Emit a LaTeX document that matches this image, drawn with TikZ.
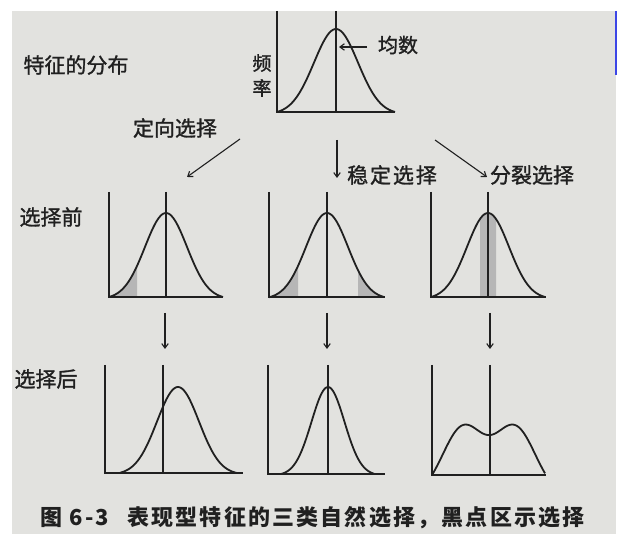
\documentclass[tikz,border=0pt]{standalone}
\usepackage{fontspec}
\setmainfont{Noto Sans CJK SC}
\usetikzlibrary{arrows.meta}
\definecolor{paper}{RGB}{226,226,223}
\definecolor{ink}{RGB}{32,32,32}
\definecolor{dotgray}{RGB}{182,182,182}
\definecolor{scanblue}{RGB}{60,70,230}
\begin{document}
\begin{tikzpicture}[x=1pt,y=-1pt,
  declare function={gn(\x,\s,\w)=(exp(-(\x*\x)/(2*\s*\s))-exp(-(\w*\w)/(2*\s*\s)))/(1-exp(-(\w*\w)/(2*\s*\s)));},
  axisline/.style={draw=ink,line width=1.2pt},
  curveline/.style={draw=ink,line width=1.8pt,line join=round},
  selfill/.style={fill=dotgray},
  arr/.style={draw=ink,line width=1.1pt,-{Straight Barb[length=4.5pt,width=6.5pt]}},
  lbl/.style={inner sep=0pt,text=ink,font=\fontsize{21}{21}\selectfont\addfontfeatures{FakeBold=1.3}},
  small/.style={inner sep=0pt,text=ink,font=\fontsize{19}{19}\selectfont\addfontfeatures{FakeBold=1.3}},
  captext/.style={inner sep=0pt,text=ink,font=\fontsize{22}{22}\selectfont\bfseries\addfontfeatures{LetterSpace=10}}
]
\useasboundingbox (0,0) rectangle (619,534);
\fill[white] (0,0) rectangle (619,534);
\fill[paper] (12,11) rectangle (616,534);
\draw[scanblue,line width=1.2pt] (616,11) -- (616,75);

% ---------- top distribution ----------
\draw[axisline] (277,11) -- (277,112) -- (395,112);
\draw[axisline] (336,11) -- (336,112);
\draw[curveline] plot[domain=-59:59,samples=81,smooth] ({336+\x},{112-83*gn(\x,22,59)});
\node[small] (freq1) at (262,63) {频};
\node[small] (freq2) at (262,88) {率};
\node[inner sep=0pt,text=ink,font=\fontsize{20}{20}\selectfont\addfontfeatures{FakeBold=1.3}] (mean) at (398,45) {均数};
\coordinate (meanA) at (367,47);
\coordinate (meanB) at (339,47);
\draw[arr] (meanA) -- (meanB);
\node[lbl] (feat) at (76,65) {特征的分布};

% ---------- selection labels ----------
\node[lbl] (dir) at (175,128) {定向选择};
\node[lbl,font=\fontsize{21}{21}\selectfont\addfontfeatures{LetterSpace=9,FakeBold=1.3}] (stab) at (392,175) {稳定选择};
\node[lbl] (split) at (532,175) {分裂选择};
\coordinate (dirA) at (240,139);
\coordinate (dirB) at (187,177);
\draw[arr] (dirA) -- (dirB);
\coordinate (stabA) at (337,140);
\coordinate (stabB) at (337,178);
\draw[arr] (stabA) -- (stabB);
\coordinate (splitA) at (435,140);
\coordinate (splitB) at (487,177);
\draw[arr] (splitA) -- (splitB);

\node[lbl] (before) at (51,217) {选择前};
\node[lbl] (after) at (46,379) {选择后};

% ---------- before selection ----------
% chart 1 (directional)
\fill[selfill] plot[domain=-57:-29,samples=30,smooth] ({166+\x},{297-84*gn(\x,21,57)}) -- (137,297) -- cycle;
\draw[axisline] (109,192) -- (109,297) -- (223,297);
\draw[axisline] (166,192) -- (166,297);
\draw[curveline] plot[domain=-57:57,samples=81,smooth] ({166+\x},{297-84*gn(\x,21,57)});
% chart 2 (stabilizing)
\fill[selfill] plot[domain=-57:-29,samples=30,smooth] ({327+\x},{297-84*gn(\x,21,57)}) -- (298,297) -- cycle;
\fill[selfill] (358,297) -- plot[domain=31:57,samples=30,smooth] ({327+\x},{297-84*gn(\x,21,57)}) -- cycle;
\draw[axisline] (269,192) -- (269,297) -- (385,297);
\draw[axisline] (327,192) -- (327,297);
\draw[curveline] plot[domain=-58:57,samples=81,smooth] ({327+\x},{297-84*gn(\x,21,57)});
% chart 3 (disruptive)
\fill[selfill] (480,297) -- plot[domain=-8:8,samples=17,smooth] ({488+\x},{297-84*gn(\x,21,57)}) -- (496,297) -- cycle;
\draw[axisline] (431,192) -- (431,297) -- (546,297);
\draw[axisline] (488,192) -- (488,297);
\draw[curveline] plot[domain=-57:57,samples=81,smooth] ({488+\x},{297-84*gn(\x,21,57)});

% ---------- arrows between rows ----------
\coordinate (r1a) at (165,313); \coordinate (r1b) at (165,349);
\coordinate (r2a) at (327,313); \coordinate (r2b) at (327,349);
\coordinate (r3a) at (490,313); \coordinate (r3b) at (490,349);
\draw[arr] (r1a) -- (r1b);
\draw[arr] (r2a) -- (r2b);
\draw[arr] (r3a) -- (r3b);

% ---------- after selection ----------
% chart 1
\draw[axisline] (105,365) -- (105,473) -- (243,473);
\draw[axisline] (163,365) -- (163,473);
\draw[curveline] plot[domain=-58:59,samples=81,smooth] ({178+\x},{473-86*gn(\x,21,59)});
% chart 2
\draw[axisline] (268,365) -- (268,474) -- (385,474);
\draw[axisline] (328,365) -- (328,474);
\draw[curveline] plot[domain=-47:46,samples=81,smooth] ({328+\x},{474-87*gn(\x,16.5,47)});
% chart 3
\draw[axisline] (432,365) -- (432,475) -- (546,475);
\draw[axisline] (490,365) -- (490,475);
\draw[curveline] plot[domain=-57:56,samples=91,smooth] ({489+\x},{475-69.3*(exp(-((\x-26)*(\x-26))/840.5)+exp(-((\x+26)*(\x+26))/840.5)-0.319)});

% ---------- caption ----------
\node[captext,anchor=west] (fignum) at (40,518) {图 6-3};
\node[captext,anchor=west] (title) at (127,518) {表现型特征的三类自然选择，黑点区示选择};
\end{tikzpicture}
\end{document}
